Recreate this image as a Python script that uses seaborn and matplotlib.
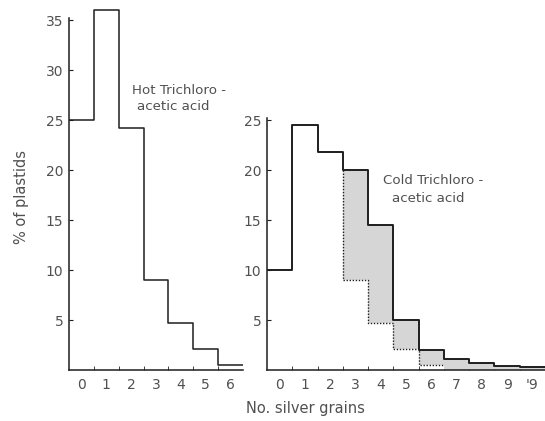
import numpy as np
import pandas as pd
import matplotlib
matplotlib.use("Agg")
import matplotlib.pyplot as plt
import seaborn as sns

# ---- data ----
hot_grains = [0, 1, 2, 3, 4, 5, 6]
hot_pct = [25, 36, 24.2, 9, 4.7, 2.1, 0.5]
cold_grains = [0, 1, 2, 3, 4, 5, 6, 7, 8, 9, 10]
cold_pct = [10, 24.5, 21.8, 20, 14.5, 5, 2, 1.1, 0.7, 0.45, 0.3]
hot_ticklabels = ["0", "1", "2", "3", "4", "5", "6"]
cold_ticklabels = ["0", "1", "2", "3", "4", "5", "6", "7", "8", "9", "'9"]
yticks_hot = [5, 10, 15, 20, 25, 30, 35]
yticks_cold = [5, 10, 15, 20, 25]
shade_from = 3  # first bin where the cold > hot region is shaded

sns.set_style("white")
plt.rcParams["font.family"] = ["DejaVu Sans"]
TXT = "#505050"
LN = "#1e1e1e"

fig = plt.figure(figsize=(5.45, 4.21), dpi=100)
W, H = 545, 421
y0 = 370
ytop = 37.0
hpx = y0
axL = fig.add_axes([69 / W, (H - y0) / H, 174 / W, hpx / H])
axR = fig.add_axes([267 / W, (H - y0) / H, 278 / W, hpx / H])

df_hot = pd.DataFrame({"g": hot_grains, "p": hot_pct})
df_cold = pd.DataFrame({"g": cold_grains, "p": cold_pct})

# shaded region between hot (lower) and cold (upper), right panel
hot_ext = np.array(hot_pct + [0] * (len(cold_pct) - len(hot_pct)), dtype=float)
cold_arr = np.array(cold_pct, dtype=float)
g = np.array(cold_grains, dtype=float)
sel = g >= shade_from
xs = np.append(g[sel] - 0.5, g[sel][-1] + 0.5)
lo = np.append(hot_ext[sel], hot_ext[sel][-1])
hi = np.append(cold_arr[sel], cold_arr[sel][-1])
axR.fill_between(xs, lo, hi, step="post", color="#d6d6d6", lw=0, zorder=1)

# dotted outline of hot distribution inside the shaded region
hsel = np.array(hot_grains) >= shade_from
hx = np.array(hot_grains, dtype=float)[hsel]
dx = np.concatenate([[hx[0] - 0.5], hx - 0.5, [hx[-1] + 0.5]])
dy = np.concatenate([[cold_arr[shade_from]], np.array(hot_pct)[hsel], [np.array(hot_pct)[hsel][-1]]])
axR.plot(dx, dy, drawstyle="steps-post", ls=(0, (1, 1.2)), color=LN, lw=1.0, zorder=2)

# step histograms via seaborn
sns.histplot(data=df_hot, x="g", weights="p", discrete=True, element="step",
             fill=False, color=LN, linewidth=1.1, ax=axL, zorder=3)
sns.histplot(data=df_cold, x="g", weights="p", discrete=True, element="step",
             fill=False, color=LN, linewidth=1.4, ax=axR, zorder=3)

for ax, n, yt, lab, ytopb in [(axL, len(hot_grains), yticks_hot, hot_ticklabels, 35.2),
                              (axR, len(cold_grains), yticks_cold, cold_ticklabels, 25.2)]:
    ax.set_xlim(-0.5, n - 0.5)
    ax.set_ylim(0, ytop)
    ax.set_xlabel("")
    ax.set_ylabel("")
    ax.patch.set_alpha(0)
    for s in ["top", "right"]:
        ax.spines[s].set_visible(False)
    for s in ["left", "bottom"]:
        ax.spines[s].set_color(LN)
        ax.spines[s].set_linewidth(1.1)
    ax.spines["left"].set_bounds(0, ytopb)
    ax.set_xticks(range(n))
    ax.set_xticklabels(lab)
    ax.set_xticks(np.arange(n - 1) + 0.5, minor=True)
    ax.set_yticks(yt)
    ax.tick_params(axis="x", which="major", length=0, pad=6, labelsize=10, labelcolor=TXT)
    ax.tick_params(axis="x", which="minor", length=3, direction="in", color=LN, bottom=True)
    ax.tick_params(axis="y", which="major", length=3, direction="in", color=LN, left=True,
                   pad=4, labelsize=10, labelcolor=TXT)

fs = 9.6
axL.text(3.92, 28.0, "Hot Trichloro -", ha="center", va="center", fontsize=fs, color=TXT)
axL.text(3.68, 26.3, "acetic acid", ha="center", va="center", fontsize=fs, color=TXT)
axR.text(6.07, 19.0, "Cold Trichloro -", ha="center", va="center", fontsize=fs, color=TXT)
axR.text(5.87, 17.2, "acetic acid", ha="center", va="center", fontsize=fs, color=TXT)

fig.text(22 / W, 1 - 197 / H, "% of plastids", rotation=90, ha="center", va="center",
         fontsize=10.5, color=TXT)
fig.text(305 / W, 1 - 408 / H, "No. silver grains", ha="center", va="center",
         fontsize=10.5, color=TXT)

fig.savefig("out.png", dpi=100)
